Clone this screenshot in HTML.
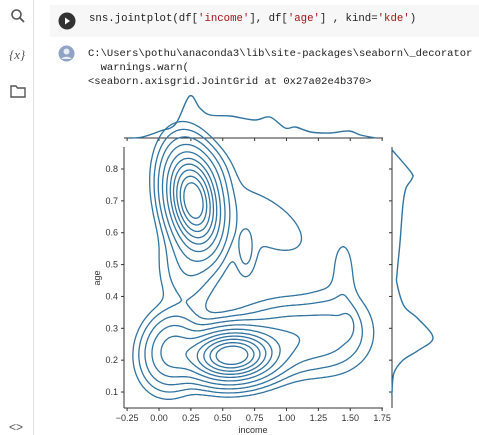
<!DOCTYPE html>
<html><head><meta charset="utf-8">
<style>
body{margin:0;width:479px;height:435px;background:#fff;overflow:hidden;position:relative;font-family:"Liberation Sans",sans-serif}
.mono{font-family:"Liberation Mono",monospace;position:absolute;white-space:pre;color:#212121}
</style></head><body>
<div style="position:absolute;left:0;top:0;width:33px;height:435px;border-right:1px solid #e0e0e0"></div>
<svg style="position:absolute;left:10px;top:8px" width="16" height="16"><circle cx="6.5" cy="6.5" r="4.5" fill="none" stroke="#555" stroke-width="1.6"/><line x1="10" y1="10" x2="14" y2="14" stroke="#555" stroke-width="1.8"/></svg>
<div style="position:absolute;left:9px;top:47px;font:italic 13px 'Liberation Serif',serif;color:#555">{x}</div>
<svg style="position:absolute;left:10px;top:84px" width="16" height="14"><path d="M1 2h5l1.5 2H15v9H1z" fill="none" stroke="#555" stroke-width="1.4"/></svg>
<div style="position:absolute;left:9px;top:420px;font-size:12px;color:#555">&lt;&gt;</div>
<div style="position:absolute;left:50px;top:5px;width:429px;height:32px;background:#f7f7f7"></div>
<svg style="position:absolute;left:58px;top:12px" width="18" height="18"><circle cx="9" cy="9" r="8.5" fill="#333"/><path d="M7 5.5l5 3.5-5 3.5z" fill="#fff"/></svg>
<div class="mono" style="left:89px;top:13px;font-size:10.7px">sns.jointplot(df[<span style="color:#a31515">'income'</span>], df[<span style="color:#a31515">'age'</span>] , kind=<span style="color:#a31515">'kde'</span>)</div>
<svg style="position:absolute;left:58px;top:45px" width="17" height="17"><circle cx="8.5" cy="8.5" r="8" fill="#8fa3c4"/><circle cx="8.5" cy="6.5" r="3" fill="#e8eef7"/><path d="M3.5 14c1-3 9-3 10 0" fill="#e8eef7"/></svg>
<div class="mono" style="left:88px;top:47px;font-size:10.5px;line-height:14px">C:\Users\pothu\anaconda3\lib\site-packages\seaborn\_decorator
  warnings.warn(
&lt;seaborn.axisgrid.JointGrid at 0x27a02e4b370&gt;</div>
<svg id="chart" width="479" height="435" style="position:absolute;left:0;top:0"></svg>
<script>
// mixture components (income mean, age mean, sd income, sd age, corr, peak height)
const compMx=[0.27,0.57,0.10,1.05,0.68,1.48,0.80,1.45,0.22,1.40,0.35];
const compMy=[0.70,0.215,0.23,0.27,0.54,0.31,0.64,0.47,0.50,0.30,0.78];
const compSx=[0.11,0.18,0.12,0.25,0.05,0.035,0.3,0.06,0.12,0.15,0.12];
const compSy=[0.08,0.042,0.06,0.06,0.05,0.025,0.09,0.08,0.08,0.07,0.05];
const compRho=[-0.25,0.05,0.1,0,0,0,-0.6,0,0,0,0];
const compW=[1.0,1.0,0.2,0.08,0.025,0.03,0.014,0.012,0.04,0.03,0.03];
const levels=[0.008,0.02,0.044,0.089,0.164,0.26,0.37,0.5,0.65,0.8];
const xTicks=[-0.25,0,0.25,0.5,0.75,1.0,1.25,1.5,1.75];
const xTickLabels=["−0.25","0.00","0.25","0.50","0.75","1.00","1.25","1.50","1.75"];
const yTicks=[0.1,0.2,0.3,0.4,0.5,0.6,0.7,0.8];
const yTickLabels=["0.1","0.2","0.3","0.4","0.5","0.6","0.7","0.8"];
const topIncome=[-0.23,-0.13,0.01,0.13,0.24,0.32,0.40,0.56,0.75,0.87,0.99,1.07,1.19,1.34,1.49,1.58,1.70];
const topDens=[0,1,7,14,42,30,23,22,18,21,10,11,6,5,7,3,0];
const rightAge=[0.86,0.79,0.77,0.74,0.69,0.57,0.47,0.44,0.37,0.33,0.27,0.23,0.20,0.16,0.10,0.09];
const rightDens=[0,19,20,14,11,8,5,5,12,26,41,26,11,2,0,0];

const X=v=>159+v*127.5, Y=v=>169+(0.8-v)*318.6;
const svg=document.getElementById('chart'), NS='http://www.w3.org/2000/svg';
function mk(t,a,p){const e=document.createElementNS(NS,t);for(const k in a)e.setAttribute(k,a[k]);(p||svg).appendChild(e);return e;}
function smooth(P){let d='M'+P[0][0]+','+P[0][1];for(let i=0;i<P.length-1;i++){const p0=P[i-1]||P[i],p1=P[i],p2=P[i+1],p3=P[i+2]||p2;
 d+='C'+(p1[0]+(p2[0]-p0[0])/6)+','+(p1[1]+(p2[1]-p0[1])/6)+' '+(p2[0]-(p3[0]-p1[0])/6)+','+(p2[1]-(p3[1]-p1[1])/6)+' '+p2[0]+','+p2[1];}return d;}
const C='#3274a1';
const ax=mk('g',{});
mk('line',{x1:124,y1:147,x2:124,y2:408,stroke:'#333','stroke-width':1},ax);
mk('line',{x1:124,y1:408,x2:383,y2:408,stroke:'#333','stroke-width':1},ax);
xTicks.forEach((t,i)=>{mk('line',{x1:X(t),y1:408,x2:X(t),y2:411,stroke:'#333'},ax);
 const tx=mk('text',{x:X(t),y:421,'font-size':9,'text-anchor':'middle',fill:'#333'},ax);tx.textContent=xTickLabels[i];
 
 mk('line',{x1:X(t),y1:138,x2:X(t),y2:141,stroke:'#333'});});
yTicks.forEach((t,i)=>{mk('line',{x1:121,y1:Y(t),x2:124,y2:Y(t),stroke:'#333'},ax);
 const tx=mk('text',{x:118,y:Y(t)+3,'font-size':9,'text-anchor':'end',fill:'#333'},ax);tx.textContent=yTickLabels[i];
 
 mk('line',{x1:389,y1:Y(t),x2:392,y2:Y(t),stroke:'#333'});});
const xl=mk('text',{x:253,y:433,'font-size':9,'text-anchor':'middle',fill:'#333'});xl.textContent='income';

const yl=mk('text',{x:100,y:278,'font-size':9,'text-anchor':'middle',fill:'#333',transform:'rotate(-90 100 278)'});yl.textContent='age';

mk('line',{x1:124,y1:138,x2:383,y2:138,stroke:'#333'});
mk('line',{x1:392,y1:147,x2:392,y2:408,stroke:'#333'});
const tp=mk('path',{d:smooth(topIncome.map((v,i)=>[X(v),138-topDens[i]])),fill:'none',stroke:C,'stroke-width':1.4});

const rp=mk('path',{d:smooth(rightAge.map((v,i)=>[392+rightDens[i],Y(v)])),fill:'none',stroke:C,'stroke-width':1.4});

function dens(x,y){let s=0;for(let k=0;k<compW.length;k++){const dx=(x-compMx[k])/compSx[k],dy=(y-compMy[k])/compSy[k],r=compRho[k];
 s+=compW[k]*Math.exp(-(dx*dx-2*r*dx*dy+dy*dy)/(2*(1-r*r)));}return s;}
const NX=240,NY=130,x0=-0.35,x1=1.85,y0=0.0,y1=0.95;
const G=[];for(let j=0;j<=NY;j++){G[j]=[];for(let i=0;i<=NX;i++)G[j][i]=dens(x0+(x1-x0)*i/NX,y0+(y1-y0)*j/NY);}
const px=i=>X(x0+(x1-x0)*i/NX), py=j=>Y(y0+(y1-y0)*j/NY);
levels.forEach(L=>{let p='';
 for(let j=0;j<NY;j++)for(let i=0;i<NX;i++){
  const a=G[j][i],b=G[j][i+1],c=G[j+1][i+1],e=G[j+1][i];
  const pts=[];
  const ed=(v1,v2,xa,ya,xb,yb)=>{if((v1>=L)!==(v2>=L)){const t=(L-v1)/(v2-v1);pts.push([xa+(xb-xa)*t,ya+(yb-ya)*t]);}};
  ed(a,b,px(i),py(j),px(i+1),py(j));ed(b,c,px(i+1),py(j),px(i+1),py(j+1));
  ed(c,e,px(i+1),py(j+1),px(i),py(j+1));ed(e,a,px(i),py(j+1),px(i),py(j));
  for(let k=0;k+1<pts.length;k+=2)p+='M'+pts[k][0].toFixed(1)+','+pts[k][1].toFixed(1)+'L'+pts[k+1][0].toFixed(1)+','+pts[k+1][1].toFixed(1);
 }
 const cp=mk('path',{d:p,fill:'none',stroke:C,'stroke-width':1.3,'stroke-linecap':'round'});
 
});
</script>
</body></html>
